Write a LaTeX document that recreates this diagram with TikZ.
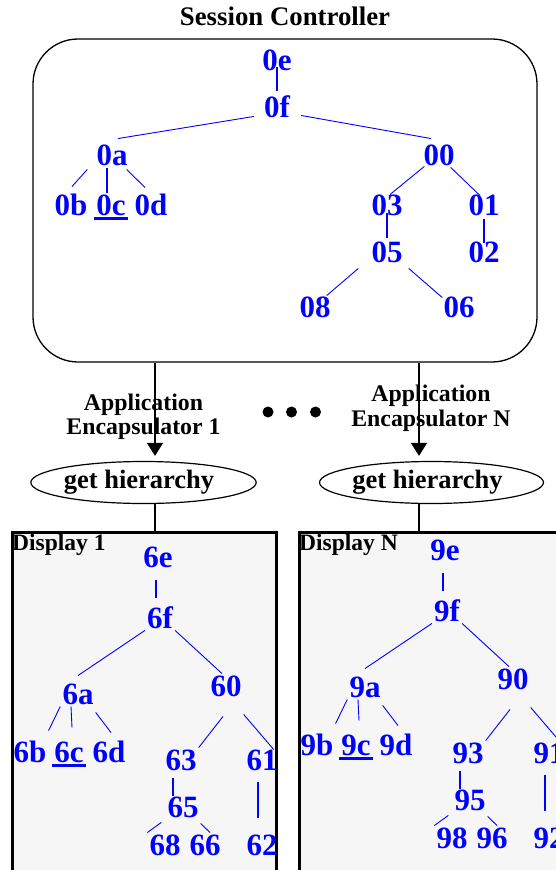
\documentclass[tikz,border=0pt]{standalone}
\usepackage{fontspec}
\setmainfont{Liberation Serif}
\usepackage{xcolor}
\usetikzlibrary{shapes,arrows.meta,positioning}
\definecolor{treeblue}{RGB}{0,0,255}
\definecolor{panelgray}{RGB}{246,246,246}

\begin{document}
\begin{tikzpicture}[x=1pt, y=-1pt,
    lbl/.style={font=\fontsize{31}{31}\selectfont\bfseries, text=treeblue, inner sep=2pt, text height=20.5pt, text depth=0pt},
    br/.style={draw=treeblue, line width=0.9pt},
    stem/.style={draw=treeblue, line width=1.7pt},
    uline/.style={draw=treeblue, line width=2.5pt},
    head/.style={font=\fontsize{26.8}{26.8}\selectfont\bfseries, inner sep=2pt},
    encap/.style={font=\fontsize{23.8}{24.5}\selectfont\bfseries, align=center, inner sep=0pt},
    call/.style={ellipse, draw, line width=1.2pt, minimum width=216pt, minimum height=42pt, inner sep=0pt, font=\fontsize{26.5}{26.5}\selectfont\bfseries},
    panel/.style={rectangle, draw, line width=2.5pt, fill=panelgray, minimum width=264pt, minimum height=400pt, anchor=north west},
    conn/.style={draw, line width=1.3pt},
    arr/.style={conn, -{Triangle[width=16pt,length=13pt]}}]
    \useasboundingbox (0,0) rectangle (556,870);
    \clip (0,0) rectangle (556,870);

    % Session controller
    \node [draw, rounded corners=45pt, line width=1.3pt, minimum width=504pt, minimum height=323pt, inner sep=0pt] (ctrl) at (285,200.5) {};
    \node [head, above=10pt of ctrl] (title) {Session Controller};

    % Controller tree
    \node [lbl] (n0e) at (277,60) {0e};
    \node [lbl] (n0f) at (277,107) {0f};
    \node [lbl] (n0a) at (112,155) {0a};
    \node [lbl] (n00) at (439,155) {00};
    \node [lbl] (n0b) at (71,205) {0b};
    \node [lbl] (n0c) at (111,205) {0c};
    \node [lbl] (n0d) at (151,205) {0d};
    \node [lbl] (n03) at (387,205) {03};
    \node [lbl] (n01) at (484,205) {01};
    \node [lbl] (n05) at (387,252) {05};
    \node [lbl] (n02) at (484,252) {02};
    \node [lbl] (n08) at (315,307) {08};
    \node [lbl] (n06) at (459,307) {06};

    \draw [stem] ([yshift=5pt]n0e.south) -- ([yshift=4pt]n0f.north);
    \draw [br] ([xshift=-8pt,yshift=3pt]n0f.south west) -- ([xshift=6pt,yshift=4pt]n0a.north);
    \draw [br] ([xshift=9pt,yshift=4pt]n0f.south east) -- ([xshift=-8pt,yshift=4pt]n00.north);
    \draw [br] ([xshift=-7pt,yshift=-2pt]n0a.south west) -- ([xshift=1pt,yshift=6pt]n0b.north);
    \draw [stem] ([xshift=-5pt,yshift=-1pt]n0a.south) -- ([xshift=-4pt]n0c.north);
    \draw [br] ([xshift=-3pt,yshift=-2pt]n0a.south east) -- ([xshift=-6pt,yshift=5pt]n0d.north);
    \draw [br] ([xshift=3pt,yshift=1pt]n00.south west) -- ([xshift=3pt,yshift=-2pt]n03.north);
    \draw [br] ([xshift=-6pt]n00.south east) -- ([xshift=-4pt,yshift=-3pt]n01.north);
    \draw [stem] ([yshift=4pt]n03.south) -- ([yshift=2pt]n05.north);
    \draw [stem] ([yshift=-2pt]n01.south) -- ([yshift=-3pt]n02.north);
    \draw [br] ([xshift=-11pt,yshift=-4pt]n05.south west) -- ([xshift=-6pt,yshift=-1pt]n08.north east);
    \draw [br] ([xshift=4pt,yshift=-4pt]n05.south east) -- ([xshift=1pt,yshift=-3pt]n06.north west);
    \draw [uline] ([yshift=-1pt]n0c.south west) -- ([yshift=-1pt]n0c.south east);

    % Encapsulators
    \node [encap] (enc1) at (143.5,417) {Application\\Encapsulator 1};
    \node [encap] (encN) at (431,408.5) {Application\\Encapsulator N};
    \foreach \i/\x in {1/268,2/291.5,3/315.5}
        \node [circle, fill, inner sep=0pt, minimum size=11pt] (dot\i) at (\x,412) {};
    \node [call] (get1) at (143.5,482.5) {get hierarchy\hspace*{9pt}};
    \node [call] (getN) at (431.5,482.5) {get hierarchy\hspace*{8pt}};
    \coordinate (lk1) at ([xshift=11.5pt]get1.north);
    \coordinate (lkN) at ([xshift=-12.5pt]getN.north);

    % Displays
    \foreach \p/\dx/\dy/\k in {6/0/0/1, 9/287/7/N} {
        \begin{scope}[xshift=\dx pt]
            \node [panel] (disp\k) at (11,531) {};
            \begin{scope}
                \clip (disp\k.north west) rectangle (disp\k.south east);
                \begin{scope}[yshift=\dy pt]
                    \node [lbl] (n\p e) at (158,557) {\p e};
                    \node [lbl] (n\p f) at (160,618) {\p f};
                    \node [lbl] (n\p a) at (78,694) {\p a};
                    \node [lbl] (n\p0) at (226,686) {\p0};
                    \node [lbl] (n\p b) at (30,752) {\p b};
                    \node [lbl] (n\p c) at (69,752) {\p c};
                    \node [lbl] (n\p d) at (109,752) {\p d};
                    \node [lbl] (n\p3) at (181,760) {\p3};
                    \node [lbl] (n\p1) at (262,760) {\p1};
                    \node [lbl] (n\p5) at (183,807) {\p5};
                    \node [lbl] (n\p8) at (165,845) {\p8};
                    \node [lbl] (n\p6) at (205,845) {\p6};
                    \node [lbl] (n\p2) at (262,845) {\p2};

                    \draw [stem] ([xshift=-2pt,yshift=-11pt]n\p e.south) -- ([xshift=-4pt,yshift=8pt]n\p f.north);
                    \draw [br] (n\p f.south west) -- ([yshift=6pt]n\p a.north);
                    \draw [br] (n\p f.south east) -- ([xshift=-4pt]n\p0.north);
                    \draw [br] (n\p a.south west) -- ([yshift=9pt]n\p b.north east);
                    \draw [br] ([xshift=-7pt]n\p a.south) -- ([xshift=3pt,yshift=12pt]n\p c.north);
                    \draw [br] ([yshift=-6pt]n\p a.south east) -- ([xshift=2pt,yshift=7pt]n\p d.north);
                    \draw [br] ([xshift=-3pt,yshift=-18pt]n\p0.south) -- (n\p3.north east);
                    \draw [br] ([yshift=-16pt]n\p0.south east) -- ([xshift=-6pt,yshift=-2pt]n\p1.north east);
                    \draw [stem] ([xshift=-8pt,yshift=-6pt]n\p3.south) -- ([xshift=-10pt,yshift=-1pt]n\p5.north);
                    \draw [stem] ([xshift=-4pt,yshift=-10pt]n\p1.south) -- ([xshift=-4pt,yshift=15pt]n\p2.north);
                    \draw [br] ([xshift=-4pt,yshift=-3pt]n\p5.south west) -- (n\p8.north west);
                    \draw [br] ([yshift=-4pt]n\p5.south east) -- ([xshift=5pt]n\p6.north);
                    \draw [uline] ([yshift=-1pt]n\p c.south west) -- ([yshift=-1pt]n\p c.south east);
                \end{scope}
            \end{scope}
            \node [font=\fontsize{23.5}{23.5}\selectfont\bfseries, anchor=north west, inner sep=1pt] (lab\k) at ([yshift=-2pt]disp\k.north west) {Display \k};
        \end{scope}
    }

    % Path
    \draw [arr] (lk1 |- ctrl.south) -- ([yshift=5pt]lk1);
    \draw [arr] (lkN |- ctrl.south) -- ([yshift=5pt]lkN);
    \draw [conn] (lk1 |- get1.south) -- (lk1 |- disp1.north);
    \draw [conn] (lkN |- getN.south) -- (lkN |- dispN.north);
\end{tikzpicture}
\end{document}
